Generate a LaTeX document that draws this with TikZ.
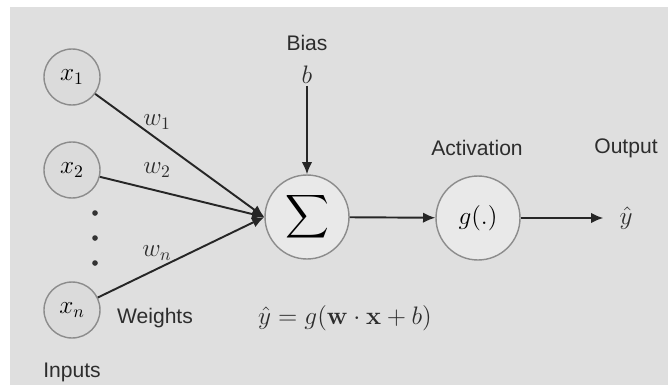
\documentclass[tikz,border=0pt]{standalone}
\usepackage{amsmath}
\usepackage[no-math]{fontspec}
\setmainfont{Liberation Sans}
\usepackage{tikz}
\usetikzlibrary{arrows.meta, positioning}

\definecolor{panelgray}{RGB}{223,223,223}
\definecolor{ringgray}{RGB}{140,140,140}
\definecolor{inputfill}{RGB}{219,219,219}
\definecolor{unitfill}{RGB}{233,233,233}
\definecolor{inkgray}{RGB}{45,45,45}

\begin{document}
\begin{tikzpicture}[
  x=0.02cm, y=-0.02cm,
  input/.style={circle, draw=ringgray, fill=inputfill, line width=0.8pt, minimum size=1.12cm, inner sep=0pt, font=\fontsize{14}{16}\selectfont},
  unit/.style={circle, draw=ringgray, fill=unitfill, line width=0.8pt, minimum size=1.68cm, inner sep=0pt, font=\fontsize{14}{16}\selectfont},
  arr/.style={-{Latex[length=7pt, width=6pt]}, line width=1.1pt, draw=black!85},
  lbl/.style={font=\fontsize{12}{14}\selectfont, text=inkgray, inner sep=1pt},
  mlbl/.style={font=\fontsize{14}{16}\selectfont, text=inkgray, inner sep=1pt},
]
\useasboundingbox (0,0) rectangle (668,385);
\fill[white] (0,0) rectangle (668,385);
\fill[panelgray] (10,7) rectangle (668,385);

% inputs
\node[input] (x1) at (72,77)  {$x_1$};
\node[input] (x2) at (72,170) {$x_2$};
\node[input] (xn) at (72,310) {$x_n$};
\foreach \yy in {213,238,263}
  \fill[black!80] (95,\yy) circle (1.6pt);
\node[lbl, below=0.45cm of xn] (inputs) {Inputs};

% summation and activation
\node[unit] (sum) at (307,217) {\fontsize{16}{18}\selectfont$\displaystyle\sum$};
\node[unit] (act) at (478,218) {$g(.)$};
\node[mlbl] (yhat) at (626,218) {$\hat{y}$};

\node[lbl]  (bias) at (307,43) {Bias};
\node[mlbl] (b)    at (307,75) {$b$};
\node[lbl]  (actlbl) at (477,148) {Activation};
\node[lbl]  (outlbl) at (626,148) {Output};

% weights
\node[mlbl] (w1) at (157,122) {$w_1$};
\node[mlbl] (w2) at (157,170) {$w_2$};
\node[mlbl] (wn) at (157,253) {$w_n$};
\node[lbl]  (weights) at (155,318) {Weights};

\node[mlbl] (rule) at (345,318) {$\hat{y} = g(\mathbf{w}\cdot\mathbf{x} + b)$};

\draw[arr] (x1) -- (sum.west);
\draw[arr] (x2) -- (sum.west);
\draw[arr] (xn) -- (sum.west);
\draw[arr] (b) -- (sum.north);
\draw[arr] (sum) -- (act);
\draw[arr, shorten >=8pt] (act) -- (yhat);
\end{tikzpicture}
\end{document}
